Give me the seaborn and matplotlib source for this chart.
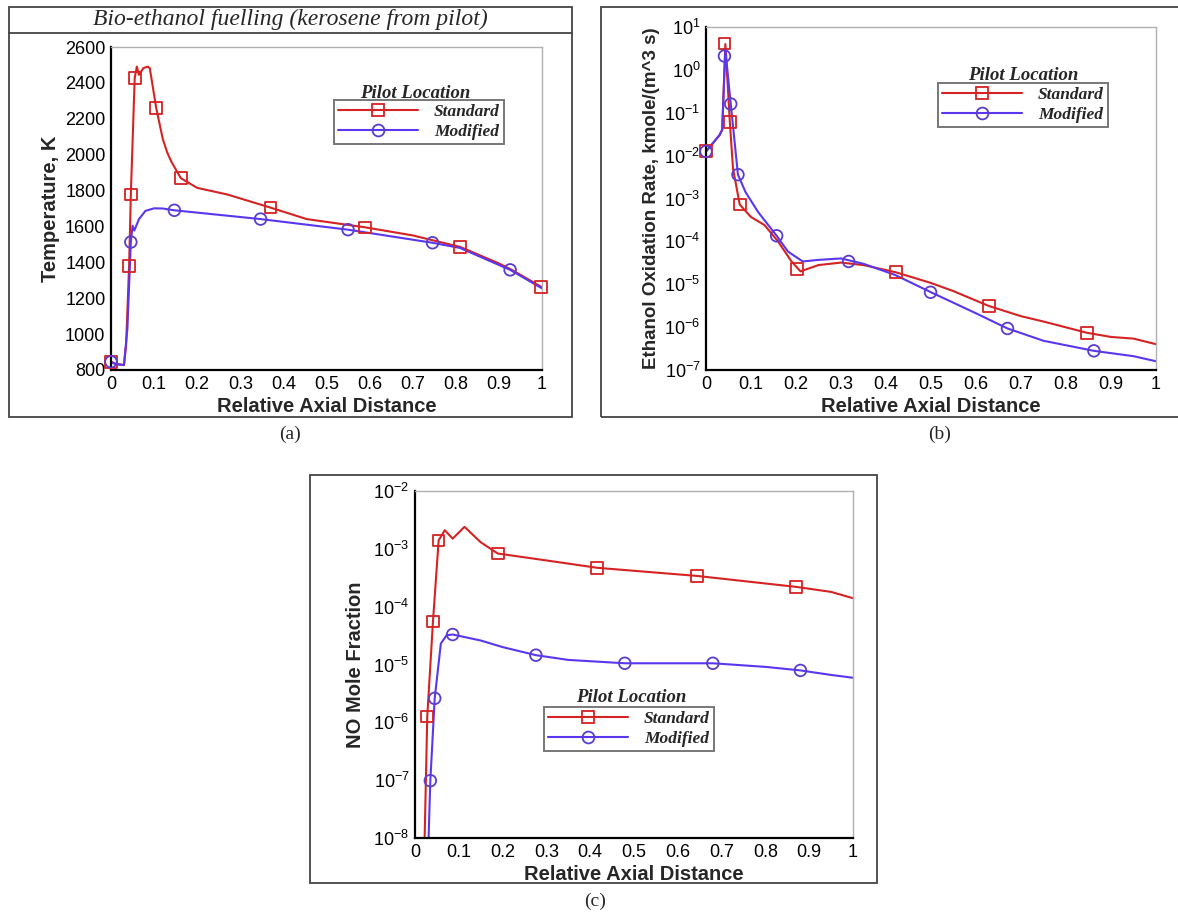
import numpy as np
import matplotlib
matplotlib.use("Agg")
import matplotlib.pyplot as plt
from matplotlib.patches import Rectangle
from matplotlib.lines import Line2D
from matplotlib.ticker import MultipleLocator, LogLocator, NullFormatter, FuncFormatter
import seaborn as sns

# ---- data ----
# (a) temperature
a_std_x = [0, 0.01, 0.03, 0.035, 0.042, 0.046, 0.055, 0.06, 0.065, 0.075, 0.085, 0.09,
           0.105, 0.12, 0.13, 0.14, 0.162, 0.2, 0.27, 0.37, 0.454, 0.59, 0.7, 0.81, 0.9, 0.93, 1.0]
a_std_y = [846, 836, 827, 937, 1380, 1778, 2427, 2491, 2445, 2482, 2491, 2482,
           2259, 2089, 2015, 1961, 1869, 1815, 1778, 1705, 1641, 1595, 1550, 1486, 1394, 1358, 1261]
a_mod_x = [0, 0.01, 0.03, 0.038, 0.046, 0.05, 0.054, 0.065, 0.08, 0.1, 0.12, 0.147,
           0.2, 0.347, 0.55, 0.746, 0.81, 0.926, 1.0]
a_mod_y = [846, 832, 828, 1029, 1513, 1604, 1577, 1641, 1687, 1701, 1700, 1690,
           1677, 1641, 1582, 1509, 1480, 1358, 1255]
a_std_mx = [0, 0.042, 0.046, 0.055, 0.105, 0.162, 0.37, 0.59, 0.81, 0.997]
a_std_my = [846, 1380, 1778, 2427, 2259, 1869, 1705, 1595, 1486, 1261]
a_mod_mx = [0, 0.046, 0.147, 0.347, 0.55, 0.746, 0.926]
a_mod_my = [846, 1513, 1690, 1641, 1582, 1509, 1358]

# (b) ethanol oxidation rate
b_std_x = [0, 0.03, 0.036, 0.043, 0.053, 0.06, 0.075, 0.1, 0.13, 0.16, 0.19, 0.21,
           0.25, 0.3, 0.35, 0.422, 0.5, 0.55, 0.629, 0.7, 0.75, 0.846, 0.9, 0.95, 1.0]
b_std_y = [0.0125, 0.03, 0.04, 4.0, 0.06, 0.005, 7.2e-4, 3.7e-4, 2.4e-4, 1.0e-4, 3.4e-5, 2.0e-5,
           2.8e-5, 3.2e-5, 2.8e-5, 1.9e-5, 1.07e-5, 6.9e-6, 3.1e-6, 1.8e-6, 1.35e-6, 7.4e-7,
           5.9e-7, 5.4e-7, 4.0e-7]
b_mod_x = [0, 0.03, 0.036, 0.043, 0.055, 0.071, 0.088, 0.116, 0.157, 0.182, 0.215, 0.25,
           0.3, 0.35, 0.42, 0.5, 0.6, 0.67, 0.75, 0.862, 0.95, 1.0]
b_mod_y = [0.0125, 0.03, 0.04, 3.0, 0.16, 3.6e-3, 1.4e-3, 4.8e-4, 1.35e-4, 5.8e-5, 3.4e-5, 3.7e-5,
           4.0e-5, 3.0e-5, 1.65e-5, 6.5e-6, 2.1e-6, 9.3e-7, 4.8e-7, 2.8e-7, 2.1e-7, 1.6e-7]
b_std_mx = [0, 0.041, 0.053, 0.075, 0.2025, 0.422, 0.629, 0.846]
b_std_my = [0.0129, 4.1, 0.06, 7.2e-4, 2.3e-5, 1.9e-5, 3.1e-6, 7.4e-7]
b_mod_mx = [0, 0.041, 0.055, 0.071, 0.157, 0.317, 0.499, 0.67, 0.862]
b_mod_my = [0.0125, 2.1, 0.16, 3.6e-3, 1.35e-4, 3.4e-5, 6.5e-6, 9.3e-7, 2.8e-7]

# (c) NO mole fraction
c_std_x = [0.02, 0.022, 0.028, 0.041, 0.054, 0.068, 0.086, 0.113, 0.15, 0.189, 0.3,
           0.416, 0.644, 0.87, 0.95, 1.0]
c_std_y = [1e-9, 1e-8, 1.26e-6, 5.5e-5, 1.4e-3, 2.1e-3, 1.5e-3, 2.4e-3, 1.3e-3, 8.3e-4, 6.3e-4,
           4.7e-4, 3.4e-4, 2.2e-4, 1.8e-4, 1.4e-4]
c_mod_x = [0.03, 0.031, 0.035, 0.045, 0.059, 0.072, 0.086, 0.15, 0.2, 0.276, 0.35, 0.479,
           0.68, 0.8, 0.88, 0.95, 1.0]
c_mod_y = [1e-9, 1e-8, 9.8e-8, 2.6e-6, 2.3e-5, 3.2e-5, 3.3e-5, 2.6e-5, 2.0e-5, 1.45e-5, 1.2e-5,
           1.05e-5, 1.05e-5, 9.1e-6, 7.9e-6, 6.6e-6, 5.9e-6]
c_std_mx = [0.028, 0.041, 0.054, 0.189, 0.416, 0.644, 0.87]
c_std_my = [1.26e-6, 5.5e-5, 1.4e-3, 8.3e-4, 4.7e-4, 3.4e-4, 2.2e-4]
c_mod_mx = [0.035, 0.045, 0.086, 0.276, 0.479, 0.68, 0.88]
c_mod_my = [9.8e-8, 2.6e-6, 3.3e-5, 1.45e-5, 1.05e-5, 1.05e-5, 7.9e-6]

series_names = ["Standard", "Modified"]
RED = "#d62222"
BLUE = "#5a36f0"
BLUE_EDGE = "#5a3dcc"

sns.set_theme(style="white")
plt.rcParams["font.family"] = ["Liberation Sans", "DejaVu Sans"]
plt.rcParams["mathtext.fontset"] = "custom"
plt.rcParams["mathtext.rm"] = "Liberation Sans"
plt.rcParams["mathtext.it"] = "Liberation Sans:italic"

W, H = 1178, 915
fig = plt.figure(figsize=(W / 100, H / 100), dpi=100)


def fpos(l, t, r, b):
    return [l / W, 1 - b / H, (r - l) / W, (b - t) / H]


def fx(px):
    return px / W


def fy(py):
    return 1 - py / H


def style_axes(ax, log=False):
    ax.set_xlim(0, 1)
    ax.xaxis.set_major_locator(MultipleLocator(0.1))
    ax.xaxis.set_minor_locator(MultipleLocator(0.02))
    ax.xaxis.set_major_formatter(FuncFormatter(lambda v, p: "%g" % round(v, 2)))
    if log:
        ax.yaxis.set_major_locator(LogLocator(base=10, numticks=20))
        ax.yaxis.set_minor_locator(LogLocator(base=10, subs=np.arange(2, 10), numticks=100))
        ax.yaxis.set_minor_formatter(NullFormatter())
    for s in ["left", "bottom"]:
        ax.spines[s].set_color("black")
        ax.spines[s].set_linewidth(1.6)
    for s in ["top", "right"]:
        ax.spines[s].set_color("#b0b0b0")
        ax.spines[s].set_linewidth(1.0)
    ax.tick_params(which="both", direction="in", top=False, right=False, colors="black")
    ax.tick_params(which="major", length=7, width=1.3, labelsize=13, pad=4)
    ax.tick_params(which="minor", length=4, width=0.9)
    ax.set_xlabel("Relative Axial Distance", fontsize=14.5, fontweight="bold", labelpad=3)


def draw(ax, sx, sy, mx, my, color, edge, marker):
    sns.lineplot(x=sx, y=sy, ax=ax, color=color, lw=1.5, sort=False, estimator=None, legend=False)
    ax.scatter(mx, my, marker=marker, s=70, facecolors="none", edgecolors=edge,
               linewidths=1.3, clip_on=False, zorder=3)


def legend(ax, left, top, title_y, title_x):
    handles = [Line2D([], [], color=RED, lw=1.5, marker="s", ms=8.5, mfc="none", mec=RED, mew=1.3),
               Line2D([], [], color=BLUE, lw=1.5, marker="o", ms=8.5, mfc="none", mec=BLUE_EDGE, mew=1.3)]
    lg = ax.legend(handles, series_names, loc="upper left", bbox_to_anchor=(fx(left), fy(top)),
                   bbox_transform=fig.transFigure, frameon=True, fancybox=False,
                   handlelength=4.6, handletextpad=0.9, borderpad=0.25, labelspacing=0.2,
                   borderaxespad=0, prop={"family": "Liberation Serif", "style": "italic",
                                          "weight": "bold", "size": 12.5})
    lg.get_frame().set_edgecolor("#555555")
    lg.get_frame().set_linewidth(1.4)
    fig.text(fx(title_x), fy(title_y), "Pilot Location", ha="center", va="center",
             family="Liberation Serif", style="italic", weight="bold", fontsize=13.5)


# ---- panel (a) ----
axA = fig.add_axes(fpos(111, 47, 542, 370))
draw(axA, a_std_x, a_std_y, a_std_mx, a_std_my, RED, RED, "s")
draw(axA, a_mod_x, a_mod_y, a_mod_mx, a_mod_my, BLUE, BLUE_EDGE, "o")
style_axes(axA)
axA.set_ylim(800, 2600)
axA.yaxis.set_major_locator(MultipleLocator(200))
axA.yaxis.set_minor_locator(MultipleLocator(40))
axA.set_ylabel("Temperature, K", fontsize=14.5, fontweight="bold", labelpad=4)
legend(axA, 334, 100, 93, 415)

# ---- panel (b) ----
axB = fig.add_axes(fpos(706, 27, 1156, 370))
axB.set_yscale("log")
draw(axB, b_std_x, b_std_y, b_std_mx, b_std_my, RED, RED, "s")
draw(axB, b_mod_x, b_mod_y, b_mod_mx, b_mod_my, BLUE, BLUE_EDGE, "o")
style_axes(axB, log=True)
axB.set_ylim(1e-7, 1e1)
axB.set_ylabel("Ethanol Oxidation Rate, kmole/(m^3 s)", fontsize=13.5, fontweight="bold", labelpad=3)
legend(axB, 938, 83, 75, 1023)

# ---- panel (c) ----
axC = fig.add_axes(fpos(415, 491, 853, 838))
axC.set_yscale("log")
draw(axC, c_std_x, c_std_y, c_std_mx, c_std_my, RED, RED, "s")
draw(axC, c_mod_x, c_mod_y, c_mod_mx, c_mod_my, BLUE, BLUE_EDGE, "o")
style_axes(axC, log=True)
axC.set_ylim(1e-8, 1e-2)
axC.set_ylabel("NO Mole Fraction", fontsize=14.5, fontweight="bold", labelpad=6)
legend(axC, 544, 707, 697, 631)

# ---- outer frames, title band and captions ----
frame_kw = dict(transform=fig.transFigure, fill=False, edgecolor="#444444", lw=1.3)
fig.add_artist(Rectangle((fx(9), fy(417)), (572 - 9) / W, (417 - 7) / H, **frame_kw))
fig.add_artist(Rectangle((fx(601), fy(417)), (1185 - 601) / W, (417 - 7) / H, **frame_kw))
fig.add_artist(Rectangle((fx(310), fy(883)), (877 - 310) / W, (883 - 475) / H, **frame_kw))
fig.add_artist(Line2D([fx(9), fx(572)], [fy(33), fy(33)], transform=fig.transFigure,
                      color="#444444", lw=1.3))
fig.text(fx(290), fy(19), "Bio-ethanol fuelling (kerosene from pilot)", ha="center", va="center",
         family="Liberation Serif", style="italic", fontsize=17)
for label, (x, y) in zip(["(a)", "(b)", "(c)"], [(290, 434), (940, 434), (595, 901)]):
    fig.text(fx(x), fy(y), label, ha="center", va="center", family="Liberation Serif", fontsize=14)

fig.savefig("out.png", dpi=100)
